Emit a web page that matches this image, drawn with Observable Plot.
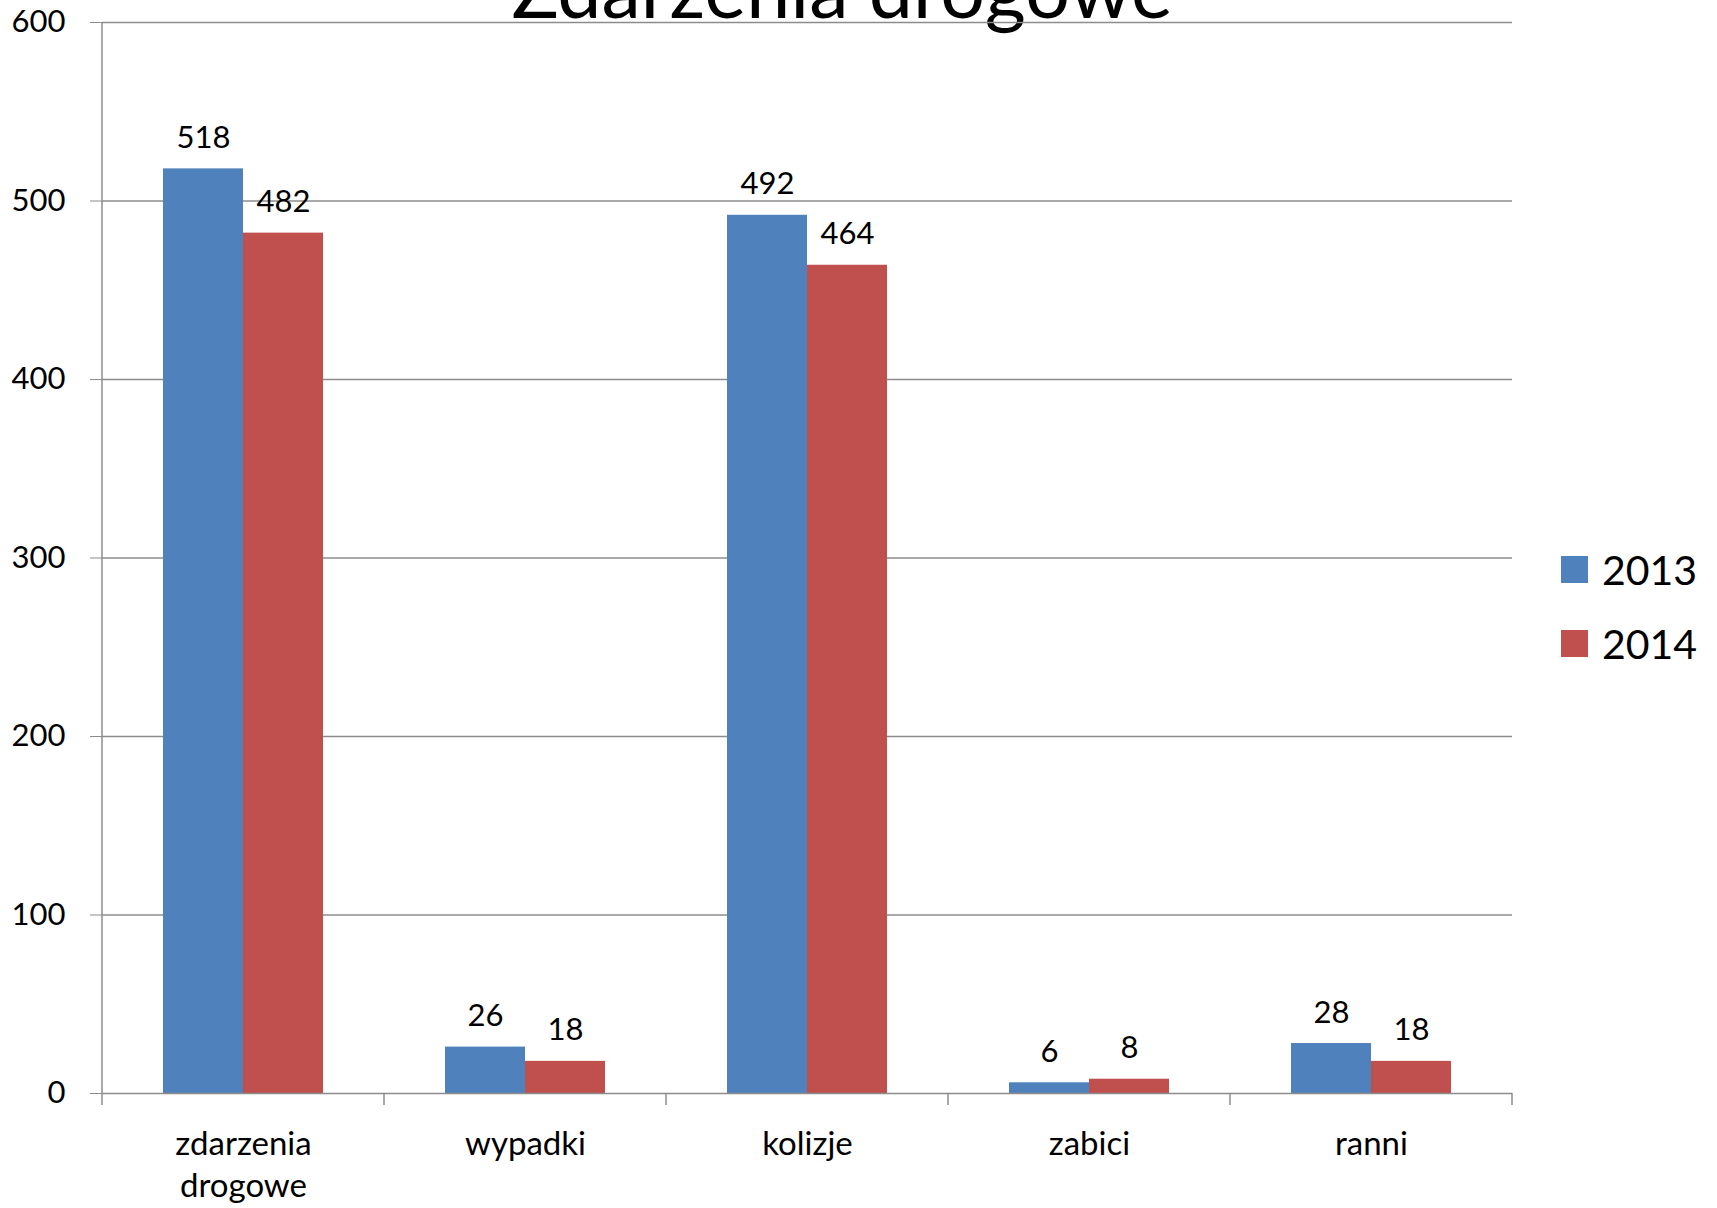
<!DOCTYPE html>
<html><head><meta charset="utf-8">
<script src="https://cdn.jsdelivr.net/npm/d3@7"></script>
<script src="https://cdn.jsdelivr.net/npm/@observablehq/plot@0.6"></script>
<style>
body{margin:0;background:#fff;overflow:hidden;}
#wrap{position:relative;width:1717px;height:1208px;font-family:Lato, sans-serif;color:#000;}
#title{position:absolute;left:842px;top:0;transform:translate(-50%,-52px);font-size:79px;white-space:nowrap;line-height:1;}
.leg{position:absolute;left:1561px;display:flex;align-items:center;font-size:41px;}
.leg span.sw{display:inline-block;width:27px;height:27px;margin-right:14px;}
svg{position:absolute;left:0;top:0;}
</style></head>
<body><div id="wrap"><div id="title">Zdarzenia drogowe</div></div>
<script>
const categories = ["zdarzenia drogowe","wypadki","kolizje","zabici","ranni"];
const categoryLabels = ["zdarzenia\ndrogowe","wypadki","kolizje","zabici","ranni"];
const years = ["2013","2014"];
const values2013 = [518,26,492,6,28];
const values2014 = [482,18,464,8,18];
const yTicks = [0,100,200,300,400,500,600];
const colors = ["#4F81BD","#C0504D"];

const data = categories.flatMap((c,i)=>[
  {category:c, year:years[0], value:values2013[i]},
  {category:c, year:years[1], value:values2014[i]}
]);

const chart = Plot.plot({
  width:1717, height:1208,
  marginLeft:100, marginRight:204, marginTop:22, marginBottom:115,
  style:{fontFamily:"Lato, sans-serif", fontSize:"31px", background:"transparent", overflow:"visible", color:"#000"},
  fx:{domain:categories, padding:0, label:null},
  x:{domain:years, paddingInner:0, paddingOuter:0.75, axis:null},
  y:{domain:[0,600], label:null},
  color:{domain:years, range:colors},
  marks:[
    Plot.ruleY(yTicks.filter(d=>d>0), {stroke:"#8c8c8c", strokeWidth:1.3}),
    Plot.barY(data, {fx:"category", x:"year", y:"value", fill:"year"}),
    Plot.ruleY([0], {stroke:"#8c8c8c", strokeWidth:1.5}),
    Plot.text(data, {fx:"category", x:"year", y:"value", text:d=>String(d.value), lineAnchor:"bottom", dy:-21, fontSize:31, fill:"#000"}),
    Plot.axisY(yTicks, {tickSize:12, tickPadding:25, fontSize:31, stroke:"#8c8c8c", fill:"#000", label:null}),
    Plot.axisFx({anchor:"bottom", tickSize:0, tickPadding:31, fontSize:33, fill:"#000", label:null, lineHeight:1.28,
      tickFormat:d=>categoryLabels[categories.indexOf(d)]})
  ]
});
document.getElementById("wrap").appendChild(chart);

// category boundary ticks and left axis line, through Plot's scales
const fx = chart.scale("fx");
const y = chart.scale("y");
const svg = d3.select(chart);
const edges = categories.map(c=>fx.apply(c)).concat([fx.apply(categories[categories.length-1]) + fx.bandwidth]);
const g = svg.append("g").attr("stroke","#8c8c8c").attr("stroke-width",1.5);
g.selectAll("line.b").data(edges).join("line")
  .attr("x1",d=>d).attr("x2",d=>d).attr("y1",y.apply(0)).attr("y2",y.apply(0)+12);
g.append("line").attr("x1",edges[0]).attr("x2",edges[0]).attr("y1",y.apply(600)).attr("y2",y.apply(0));

// legend
years.forEach((yr,i)=>{
  const d = document.createElement("div");
  d.className = "leg";
  d.style.top = (545 + i*74) + "px";
  d.innerHTML = `<span class="sw" style="background:${colors[i]}"></span><span>${yr}</span>`;
  document.getElementById("wrap").appendChild(d);
});
</script>
</body></html>
